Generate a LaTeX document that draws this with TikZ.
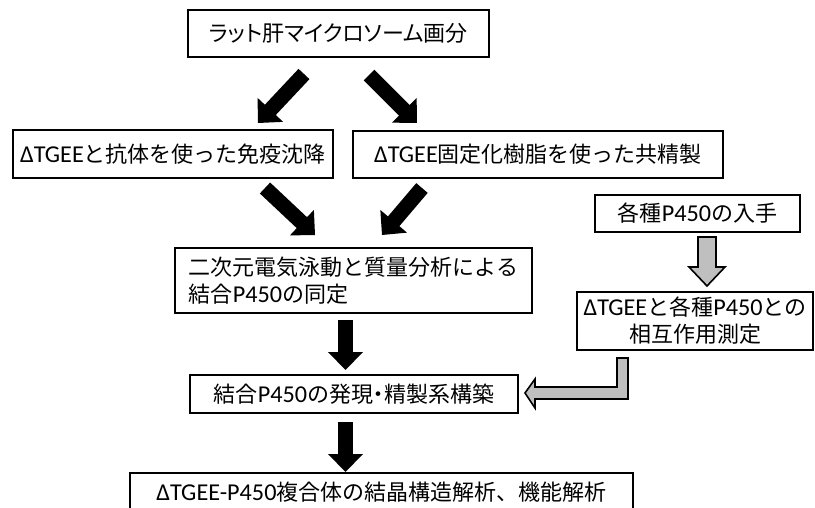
\documentclass[tikz,border=0pt]{standalone}
\usepackage{fontspec}
\setmainfont{Noto Sans CJK JP}
\newfontfamily\jpp[RawFeature=+palt]{Noto Sans CJK JP}
\newfontfamily\lat[Scale=1.1]{Carlito}
\usetikzlibrary{calc}
\newcommand\blkarrow[2]{%
  \coordinate (hb) at ($(#2)!17pt!(#1)$);
  \draw[line width=15pt] (#1) -- (hb);
  \coordinate (hc) at ($(#2)!18pt!(#1)$);
  \fill ($(hc)!17.5pt!90:(#2)$) -- (#2) -- ($(hc)!17.5pt!-90:(#2)$) -- cycle;
}
\begin{document}
\begin{tikzpicture}[x=1pt,y=-1pt,
  box/.style={draw=black, line width=1.6pt, fill=white, inner sep=0pt,
    font=\fontsize{22}{27}\selectfont},
  garrow/.style={draw=black, line width=1.6pt, fill=black!25, line join=miter}]
\useasboundingbox (0,0) rectangle (815,508);
\node[box, minimum width=301pt, minimum height=47pt] (b1) at (338.5,33.5) {{\jpp ラット肝マイクロソーム画分}};
\node[box, minimum width=320pt, minimum height=48pt] (b2) at (173,154) {{\lat ΔTGEE}と抗体を使った免疫沈降};
\node[box, minimum width=370pt, minimum height=47pt] (b3) at (538,154.5) {{\lat ΔTGEE}固定化樹脂を使った共精製};
\node[box, minimum width=357pt, minimum height=65pt, align=left] (b4) at (353.5,280.5) {二次元電気泳動と質量分析による\\結合{\lat P450}の同定};
\node[box, minimum width=205pt, minimum height=37pt] (b5) at (697.5,213.5) {各種{\lat P450}の入手};
\node[box, minimum width=236pt, minimum height=58pt, align=center] (b6) at (695,321) {{\lat ΔTGEE}と各種{\lat P450}との\\相互作用測定};
\node[box, minimum width=328pt, minimum height=38pt] (b7) at (354,394) {結合{\lat P450}の発現{\jpp ・}精製系構築};
\node[box, minimum width=503pt, minimum height=38pt] (b8) at (381.5,492) {{\lat ΔTGEE-P450}複合体の結晶構造解析、機能解析};
% black arrows
\coordinate (a1s) at (304,74);  \coordinate (a1e) at (258,123);
\coordinate (a2s) at (369,75);  \coordinate (a2e) at (417,123);
\coordinate (a3s) at (265,188); \coordinate (a3e) at (315,235);
\coordinate (a4s) at (422,188); \coordinate (a4e) at (382,235);
\coordinate (a5s) at (345.5,320); \coordinate (a5e) at (345.5,370);
\coordinate (a6s) at (345.5,422); \coordinate (a6e) at (345.5,472);
\blkarrow{a1s}{a1e}
\blkarrow{a2s}{a2e}
\blkarrow{a3s}{a3e}
\blkarrow{a4s}{a4e}
\blkarrow{a5s}{a5e}
\blkarrow{a6s}{a6e}
% gray down arrow
\draw[garrow] (698,237) -- (716,237) -- (716,267) -- (725,267) -- (707,286) -- (689,267) -- (698,267) -- cycle;
% gray bent arrow
\draw[garrow] (617,358) -- (628,358) -- (628,399) -- (535,399) -- (535,408) -- (525,393) -- (535,379) -- (535,387) -- (617,387) -- cycle;
\end{tikzpicture}
\end{document}
